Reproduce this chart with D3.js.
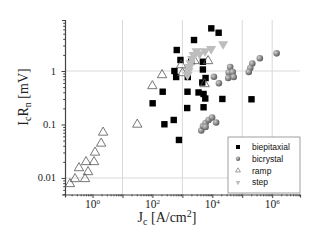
<!DOCTYPE html>
<html><head><meta charset="utf-8">
<script src="https://cdn.jsdelivr.net/npm/d3@7"></script>
<style>body{margin:0;background:#fff}svg{display:block}</style>
</head><body>
<svg id="c" width="327" height="245"></svg>
<script>
// Data (Jc in A/cm^2, IcRn in mV)
const biepitaxialJc = [9250,16260,2450,649,863,1973,4840,543,4840,620,1518,5960,4620,220,1483,3470,5100,5820,21670,203700,101.6,1449,5100,514,251,769];
const biepitaxialV  = [6.28,5.20,3.80,2.47,1.61,1.49,1.49,1.0,1.067,0.772,0.772,0.740,0.610,0.410,0.410,0.397,0.372,0.306,0.300,0.296,0.249,0.203,0.210,0.1214,0.1009,0.0513];
const bicrystalJc = [1.406e6,386600,216600,185500,165200,39560,35240,48000,33900,51880,11320,16650,4275,4910,5960,7510,9840,13420,5960];
const bicrystalV  = [2.14,1.73,1.38,1.14,0.958,1.188,0.937,0.958,0.740,0.772,0.782,0.589,0.0772,0.0938,0.1067,0.1214,0.1352,0.109,0.0898];
const rampJc = [0.176,0.259,0.56,0.706,0.352,0.605,1.12,1.21,1.93,2.25,31.1,210,99.3,912,1008,7230,5520,2550];
const rampV  = [0.00807,0.0100,0.0100,0.0135,0.0160,0.0208,0.0208,0.0313,0.0461,0.074,0.1044,0.879,0.548,1.35,0.958,1.61,0.597,1.61];
const stepJc = [23030,9120,5730,2970,2360,2100,1870,1730,1603,1483,3750];
const stepV  = [3.06,2.47,2.26,2.26,1.91,1.61,1.35,1.14,0.958,0.806,1.99];
const xTickVals = [1,100,1e4,1e6];
const xTickExp = ["0","2","4","6"];
const yTickVals = [0.01,0.1,1];
const yTickLabels = ["0.01","0.1","1"];
const xGrid = [10,1000,1e5,1e6];
const yGrid = [0.01,1];
const legendNames = ["biepitaxial","bicrystal","ramp","step"];

const svg = d3.select("#c");
const L=65,R=300,T=20,B=194.5;
const x = d3.scaleLog().domain([0.12,8.5e6]).range([L,R]);
const y = d3.scaleLog().domain([0.0049,9]).range([B,T]);

const defs = svg.append("defs");
const g = defs.append("radialGradient").attr("id","ball").attr("cx","35%").attr("cy","35%").attr("r","65%");
g.append("stop").attr("offset","0%").attr("stop-color","#d0d0d0");
g.append("stop").attr("offset","60%").attr("stop-color","#8a8a8a");
g.append("stop").attr("offset","100%").attr("stop-color","#5e5e5e");

// grid
svg.append("g").selectAll("line").data(xGrid).join("line")
  .attr("x1",d=>x(d)).attr("x2",d=>x(d)).attr("y1",T).attr("y2",B)
  .attr("stroke","#d9d9d9").attr("stroke-width",1);
svg.append("g").selectAll("line").data(yGrid).join("line")
  .attr("x1",L).attr("x2",R).attr("y1",d=>y(d)).attr("y2",d=>y(d))
  .attr("stroke","#d9d9d9").attr("stroke-width",1);

// axes
const xAxis = d3.axisBottom(x).tickValues(x.ticks()).tickSize(3).tickFormat("");
const gx = svg.append("g").attr("transform",`translate(0,${B})`).call(xAxis);
gx.selectAll(".tick line").attr("y2",d=>{const l=Math.log10(d);return Math.abs(l-Math.round(l))<1e-6?3.5:1.8;});
const yAxis = d3.axisLeft(y).tickValues(y.ticks()).tickSize(3).tickFormat("");
const gy = svg.append("g").attr("transform",`translate(${L},0)`).call(yAxis);
gy.selectAll(".tick line").attr("x2",d=>{const l=Math.log10(d);return Math.abs(l-Math.round(l))<1e-6?-3.5:-1.8;});
[gx,gy].forEach(a=>{a.select(".domain").attr("stroke","#444").attr("stroke-width",1.2);a.selectAll(".tick line").attr("stroke","#444");});

// tick labels
const tl = svg.append("g").attr("font-family","Liberation Serif, Times New Roman, serif").attr("fill","#222");
xTickVals.forEach((v,i)=>{
  const t = tl.append("text").attr("x",x(v)).attr("y",208).attr("text-anchor","middle").attr("font-size",11.5);
  t.append("tspan").text("10");
  t.append("tspan").attr("dy",-4.5).attr("font-size",7).text(xTickExp[i]);
});
yTickVals.forEach((v,i)=>{
  tl.append("text").attr("x",56).attr("y",y(v)+3.5).attr("text-anchor","end").attr("font-size",10.5).text(yTickLabels[i]);
});

// axis titles
const xt = svg.append("text").attr("x",167).attr("y",222).attr("text-anchor","middle")
  .attr("font-family","Liberation Serif, Times New Roman, serif").attr("font-size",14).attr("fill","#222");
xt.append("tspan").text("J");
xt.append("tspan").attr("dy",3).attr("font-size",10).text("c");
xt.append("tspan").attr("dy",-3).text(" [A/cm");
xt.append("tspan").attr("dy",-5).attr("font-size",10).text("2");
xt.append("tspan").attr("dy",5).text("]");
const yt = svg.append("text").attr("transform","translate(28,97) rotate(-90)").attr("text-anchor","middle")
  .attr("font-family","Liberation Serif, Times New Roman, serif").attr("font-size",14).attr("fill","#222");
yt.append("tspan").text("I");
yt.append("tspan").attr("dy",3).attr("font-size",10).text("c");
yt.append("tspan").attr("dy",-3).text("R");
yt.append("tspan").attr("dy",3).attr("font-size",10).text("n");
yt.append("tspan").attr("dy",-3).text(" [mV]");

// marks
const sq = d3.range(biepitaxialJc.length).map(i=>[biepitaxialJc[i],biepitaxialV[i]]);
svg.append("g").selectAll("rect").data(sq).join("rect")
  .attr("x",d=>x(d[0])-3.2).attr("y",d=>y(d[1])-3.2).attr("width",6.4).attr("height",6.4).attr("fill","#000");
const bc = d3.range(bicrystalJc.length).map(i=>[bicrystalJc[i],bicrystalV[i]]);
svg.append("g").selectAll("circle").data(bc).join("circle")
  .attr("cx",d=>x(d[0])).attr("cy",d=>y(d[1])).attr("r",3.3).attr("fill","url(#ball)");
const tri = d3.symbol().type(d3.symbolTriangle).size(38);
const rp = d3.range(rampJc.length).map(i=>[rampJc[i],rampV[i]]);
svg.append("g").selectAll("path").data(rp).join("path")
  .attr("d",tri).attr("transform",d=>`translate(${x(d[0])},${y(d[1])+1})`)
  .attr("fill","none").attr("stroke","#555").attr("stroke-width",0.8);
const tri2 = d3.symbol().type(d3.symbolTriangle).size(44);
const st = d3.range(stepJc.length).map(i=>[stepJc[i],stepV[i]]);
svg.append("g").selectAll("path").data(st).join("path")
  .attr("d",tri2).attr("transform",d=>`translate(${x(d[0])},${y(d[1])-1}) rotate(180)`)
  .attr("fill","#bdbdbd");

// legend
const lg = svg.append("g");
lg.append("rect").attr("x",228).attr("y",137).attr("width",72).attr("height",56)
  .attr("fill","#fff").attr("stroke","#888").attr("stroke-width",0.8);
legendNames.forEach((n,i)=>{
  const cy = 147+i*11.8, cx=238;
  if(i===0) lg.append("rect").attr("x",cx-2).attr("y",cy-2).attr("width",4).attr("height",4).attr("fill","#000");
  if(i===1) lg.append("circle").attr("cx",cx).attr("cy",cy).attr("r",2.2).attr("fill","url(#ball)");
  if(i===2) lg.append("path").attr("d",d3.symbol().type(d3.symbolTriangle).size(10)).attr("transform",`translate(${cx},${cy})`).attr("fill","none").attr("stroke","#777").attr("stroke-width",0.7);
  if(i===3) lg.append("path").attr("d",d3.symbol().type(d3.symbolTriangle).size(10)).attr("transform",`translate(${cx},${cy}) rotate(180)`).attr("fill","#bdbdbd");
  lg.append("text").attr("x",252).attr("y",cy+3).attr("font-family","Liberation Sans, Arial, sans-serif").attr("font-size",8.5).attr("fill","#111").text(n);
});
</script>
</body></html>
